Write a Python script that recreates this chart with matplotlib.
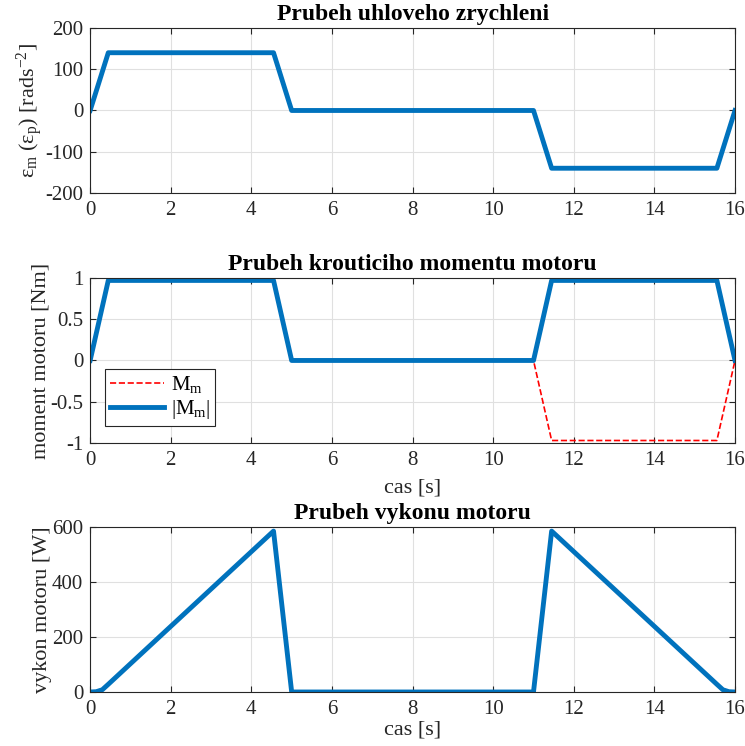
import numpy as np
import matplotlib
matplotlib.use('Agg')
import matplotlib.pyplot as plt
from matplotlib.ticker import FuncFormatter

plt.rcParams['font.family'] = ['Liberation Serif', 'DejaVu Serif']
plt.rcParams['mathtext.fontset'] = 'custom'
plt.rcParams['mathtext.rm'] = 'Liberation Serif'
plt.rcParams['mathtext.it'] = 'Liberation Serif:italic'
plt.rcParams['font.size'] = 15

# uhlove zrychleni
t_eps = [0, 0.45, 4.55, 5, 11, 11.45, 15.55, 16]
eps = [0, 140, 140, 0, 0, -140, -140, 0]

# moment motoru
t_mom = [0, 0.45, 4.55, 5, 11, 11.45, 15.55, 16]
mom = [0, 0.97, 0.97, 0, 0, -0.97, -0.97, 0]
mom_abs = [0, 0.97, 0.97, 0, 0, 0.97, 0.97, 0]

# vykon motoru
t_pow = [0, 0.15, 0.3, 0.45, 4.55, 5, 11, 11.45, 15.55, 15.7, 15.85, 16]
pw = [0, 1, 8, 28, 585, 0, 0, 585, 28, 8, 1, 0]

blue = '#0072BD'
gray = (0.15, 0.15, 0.15)

fig = plt.figure(figsize=(7.45, 7.46), dpi=100)
ax1 = fig.add_axes([0.121, 0.7413, 0.8656, 0.2212])
ax2 = fig.add_axes([0.121, 0.4062, 0.8656, 0.2212])
ax3 = fig.add_axes([0.121, 0.0724, 0.8656, 0.2212])

def fmt(v, p):
    return '%g' % v

for ax in (ax1, ax2, ax3):
    ax.set_xlim(0, 16)
    ax.set_xticks(np.arange(0, 17, 2))
    ax.grid(True, color=(0.88, 0.88, 0.88), linewidth=0.8)
    ax.set_axisbelow(True)
    ax.tick_params(direction='in', top=True, right=True, colors=gray,
                   labelcolor=gray, labelsize=15, length=4)
    ax.tick_params(axis='x', pad=6)
    ax.tick_params(axis='y', pad=5)
    for s in ax.spines.values():
        s.set_color(gray)
        s.set_linewidth(0.8)
    ax.yaxis.set_major_formatter(FuncFormatter(fmt))

ax1.plot(t_eps, eps, color=blue, linewidth=3.5)
ax1.set_ylim(-200, 200)
ax1.set_yticks([-200, -100, 0, 100, 200])
ax1.set_title('Prubeh uhloveho zrychleni', fontweight='bold', fontsize=17, pad=6)
ax1.set_ylabel(r'$\mathregular{\varepsilon_m\ (\varepsilon_p)\ [rads^{-2}]}$',
               color=gray, fontsize=16, labelpad=0)

ax2.plot(t_mom, mom, color='r', linestyle='--', linewidth=1.2, label=r'$\mathregular{M_m}$')
ax2.plot(t_mom, mom_abs, color=blue, linewidth=3.5, label=r'$\mathregular{|M_m|}$')
ax2.set_ylim(-1, 1)
ax2.set_yticks([-1, -0.5, 0, 0.5, 1])
ax2.set_title('Prubeh krouticiho momentu motoru', fontweight='bold', fontsize=17, pad=6)
ax2.set_ylabel('moment motoru [Nm]', color=gray, fontsize=16, labelpad=0)
ax2.set_xlabel('cas [s]', color=gray, fontsize=16, labelpad=6)
leg = ax2.legend(loc='lower left', bbox_to_anchor=(0.023, 0.1), fancybox=False,
                 framealpha=1, edgecolor=gray, fontsize=15, handlelength=2.6,
                 borderpad=0.25, labelspacing=0.15, handletextpad=0.3,
                 borderaxespad=0)
leg.get_frame().set_linewidth(0.8)

ax3.plot(t_pow, pw, color=blue, linewidth=3.5)
ax3.set_ylim(0, 600)
ax3.set_yticks([0, 200, 400, 600])
ax3.set_title('Prubeh vykonu motoru', fontweight='bold', fontsize=17, pad=6)
ax3.set_ylabel('vykon motoru [W]', color=gray, fontsize=16, labelpad=0)
ax3.set_xlabel('cas [s]', color=gray, fontsize=16, labelpad=1)

fig.savefig('out.png', dpi=100)
